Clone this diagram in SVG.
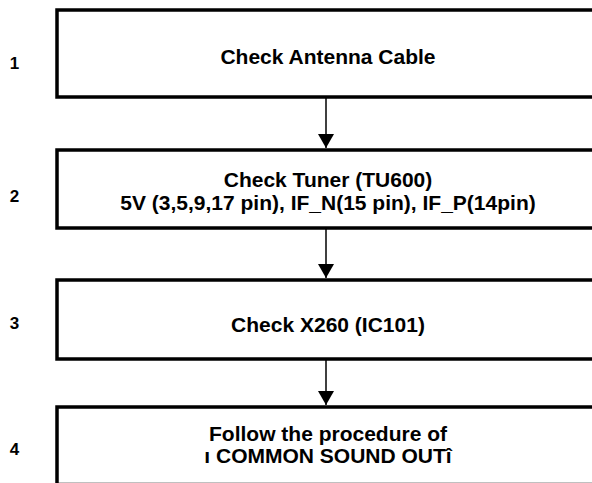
<svg xmlns="http://www.w3.org/2000/svg" width="592" height="483" viewBox="0 0 592 483">
  <defs>
    <marker id="arrow" viewBox="0 0 14 16" refX="14" refY="8" markerWidth="14" markerHeight="16" markerUnits="userSpaceOnUse" orient="auto">
      <path d="M0,0 L14,8 L0,16 Z" fill="#000"/>
    </marker>
    <style>
      .box { fill: #fff; stroke: #000; stroke-width: 3.5; }
      .txt { font-family: "Liberation Sans", Arial, sans-serif; font-weight: bold; font-size: 21px; fill: #000; text-anchor: middle; }
      .num { font-family: "Liberation Sans", Arial, sans-serif; font-weight: bold; font-size: 17px; fill: #000; text-anchor: middle; }
      .conn { stroke: #000; stroke-width: 1.5; fill: none; }
    </style>
  </defs>
  <rect width="592" height="483" fill="#fff"/>

  <g id="step1">
    <rect class="box" x="57" y="10" width="540" height="87"/>
    <text class="num" x="14.5" y="69">1</text>
    <text class="txt" x="328" y="64">Check Antenna Cable</text>
  </g>

  <g id="step2">
    <rect class="box" x="57" y="150" width="540" height="78"/>
    <text class="num" x="14.5" y="202">2</text>
    <text class="txt" x="328" y="187">Check Tuner (TU600)</text>
    <text class="txt" x="328" y="210">5V (3,5,9,17 pin), IF_N(15 pin), IF_P(14pin)</text>
  </g>

  <g id="step3">
    <rect class="box" x="57" y="280" width="540" height="79"/>
    <text class="num" x="14.5" y="329">3</text>
    <text class="txt" x="328" y="332">Check X260 (IC101)</text>
  </g>

  <g id="step4">
    <rect class="box" x="57" y="407" width="540" height="77.5"/>
    <text class="num" x="14.5" y="455">4</text>
    <text class="txt" x="328" y="441">Follow the procedure of</text>
    <text class="txt" x="328" y="463">ı COMMON SOUND OUTî</text>
  </g>

  <g id="connectors">
    <line class="conn" x1="326" y1="97" x2="326" y2="148" marker-end="url(#arrow)"/>
    <line class="conn" x1="326" y1="228" x2="326" y2="278" marker-end="url(#arrow)"/>
    <line class="conn" x1="326" y1="359" x2="326" y2="405" marker-end="url(#arrow)"/>
  </g>
</svg>
